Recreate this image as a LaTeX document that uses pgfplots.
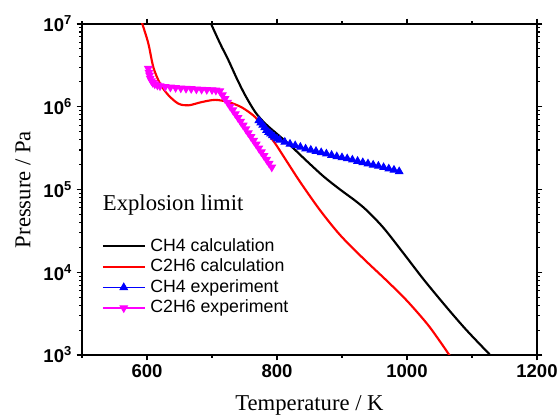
\documentclass[border=0pt]{standalone}
\usepackage{pgfplots}
\pgfplotsset{compat=1.18}
\usepackage{fontspec}
\setmainfont{Liberation Serif}
\setsansfont{Liberation Sans}
\definecolor{mag}{RGB}{255,0,255}
\definecolor{pblue}{RGB}{0,0,255}
\definecolor{pred}{RGB}{255,0,0}

\pgfplotstableread{
T P
694 1.22e7
698.7 1e7
712.5 5.8e6
725.3 3.65e6
738.2 2.19e6
751 1.38e6
766.4 8.65e5
781.8 6.27e5
802.3 4.53e5
821 3.38e5
846 2.2e5
872 1.43e5
897 1.0e5
920 7.36e4
938 5.6e4
964 3.43e4
995 1.68e4
1026 8.11e3
1062 3.69e3
1092 1.98e3
1128 1.0e3
1135 8.77e2
}\chfourcalc

\pgfplotstableread{
T P
589 1.25e7
592.9 1e7
602.1 5.8e6
609.8 3.0e6
620.1 1.9e6
632.9 1.38e6
648.3 1.09e6
663.7 1.04e6
684.4 1.14e6
704.8 1.21e6
725.3 1.14e6
746 9.8e5
766.4 7.5e5
781.8 5.2e5
797.2 3.6e5
815 2.19e5
836 1.22e5
866 5.65e4
897 2.82e4
933 1.46e4
969 7.89e3
1000 4.52e3
1031 2.38e3
1051 1.45e3
1064 1.03e3
1070 8.85e2
}\ctwohsixcalc

\pgfplotstableread{
T P
772 6.8e5
775 6.4e5
778 6.0e5
781 5.6e5
784 5.2e5
787 4.9e5
790 4.7e5
793 4.5e5
796 4.3e5
800 4.1e5
804 3.95e5
812 3.75e5
820 3.55e5
828 3.4e5
836 3.25e5
844 3.1e5
852 3.0e5
860 2.9e5
868 2.8e5
876 2.7e5
884 2.6e5
892 2.5e5
900 2.43e5
908 2.36e5
916 2.28e5
924 2.2e5
932 2.12e5
940 2.05e5
948 1.98e5
956 1.92e5
964 1.85e5
972 1.78e5
980 1.72e5
988 1.65e5
}\chfourexp

\pgfplotstableread{
T P
602 2.9e6
603 2.6e6
604 2.4e6
605 2.2e6
607 2.05e6
609 1.95e6
612 1.88e6
616 1.82e6
620 1.78e6
628 1.75e6
636 1.72e6
644 1.70e6
652 1.68e6
660 1.66e6
668 1.65e6
676 1.63e6
684 1.62e6
692 1.61e6
700 1.60e6
706 1.58e6
712 1.55e6
716 1.39e6
720 1.25e6
724 1.13e6
728 1.01e6
732 9.12e5
736 8.2e5
740 7.38e5
744 6.64e5
748 5.97e5
752 5.37e5
756 4.83e5
760 4.35e5
764 3.91e5
768 3.52e5
772 3.16e5
776 2.84e5
780 2.56e5
784 2.30e5
788 2.07e5
792 1.86e5
}\ctwohsixexp

\begin{document}
\begin{tikzpicture}
\begin{axis}[
  at={(0,0)}, anchor=south west,
  scale only axis, width=341.25pt, height=248.25pt,
  xmin=500, xmax=1200, ymode=log, ymin=1e3, ymax=1e7,
  xtick={600,800,1000,1200},
  minor xtick={500,700,900,1100},
  xticklabels={\textbf{600},\textbf{800},\textbf{1000},\textbf{1200}},
  ytick={1e3,1e4,1e5,1e6,1e7},
  yticklabels={\textbf{10\textsuperscript{3}},\textbf{10\textsuperscript{4}},\textbf{10\textsuperscript{5}},\textbf{10\textsuperscript{6}},\textbf{10\textsuperscript{7}}},
  tick label style={font=\sffamily\bfseries\fontsize{13.9}{16}\selectfont},
  tick align=outside,
  major tick length=4pt, minor tick length=2.2pt,
  every tick/.style={line width=0.8pt, black},
  axis line style={line width=1pt},
  xlabel={Temperature / K}, ylabel={Pressure / Pa},
  label style={font=\rmfamily\fontsize{17}{20}\selectfont},
  xlabel style={at={(axis description cs:0.5,-0.1662)}, anchor=base},
  ylabel style={at={(axis description cs:-0.1297,0.5)}, anchor=center},
  legend style={at={(axis description cs:0.043,0.36)}, anchor=north west,
    draw=none, fill=none, inner sep=0pt, row sep=0pt, column sep=2.5pt,
    font=\sffamily\fontsize{13.3}{15}\selectfont,
    nodes={inner sep=1pt, text height=10.2pt, text depth=3.2pt}},
  legend cell align=left,
  legend image code/.code={\draw[mark repeat=2,mark phase=2] plot coordinates {(0cm,0cm) (0.55cm,0cm) (1.1cm,0cm)};},
]
\addplot[black, line width=1.6pt, smooth, no markers] table[x=T,y=P] {\chfourcalc};
\addlegendentry{CH4 calculation}
\addplot[pred, line width=1.6pt, smooth, no markers] table[x=T,y=P] {\ctwohsixcalc};
\addlegendentry{C2H6 calculation}
\addplot[pblue, line width=0.8pt, mark=triangle*, mark size=3.1pt, mark options={solid, fill=pblue}] table[x=T,y=P] {\chfourexp};
\addlegendentry{CH4 experiment}
\addplot[mag, line width=0.8pt, mark=triangle*, mark size=3.1pt, mark options={solid, fill=mag, rotate=180}] table[x=T,y=P] {\ctwohsixexp};
\addlegendentry{C2H6 experiment}
\node[anchor=base west, font=\rmfamily\fontsize{17}{20}\selectfont, inner sep=0pt] at (axis description cs:0.0455,0.438) {Explosion limit};
\end{axis}
\pgfresetboundingbox
\path[use as bounding box] (-61.5pt,-44.25pt) rectangle (358.5pt,266.25pt);
\end{tikzpicture}
\end{document}
